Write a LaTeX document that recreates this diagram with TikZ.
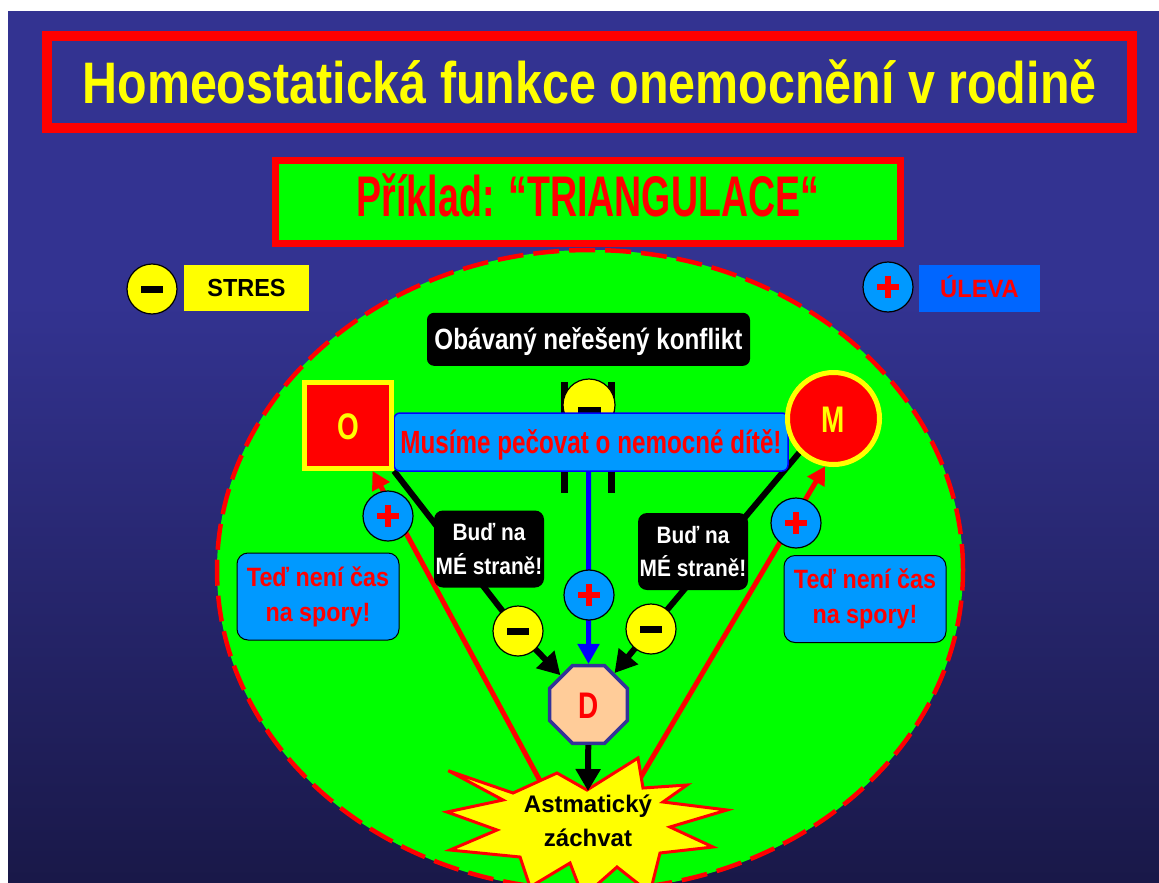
\documentclass[tikz,border=0pt]{standalone}
\usepackage{fontspec}
\setmainfont{Liberation Sans}
\newfontfamily\fT[FakeStretch=0.826]{Liberation Sans}
\newfontfamily\fS[FakeStretch=0.655]{Liberation Sans}
\newfontfamily\fM[FakeStretch=0.755]{Liberation Sans}
\newfontfamily\fB[FakeStretch=0.88]{Liberation Sans}
\newfontfamily\fL[FakeStretch=0.95]{Liberation Sans}
\usetikzlibrary{shapes.geometric,arrows.meta,calc}
\pgfdeclarelayer{back}
\pgfdeclarelayer{bg}
\pgfsetlayers{back,bg,main}
\definecolor{bgtop}{RGB}{51,51,145}
\definecolor{bgbot}{RGB}{25,24,72}
\definecolor{lblue}{RGB}{0,153,255}
\definecolor{ublue}{RGB}{0,102,255}
\definecolor{peach}{RGB}{255,204,153}
\definecolor{navy}{RGB}{51,51,153}
\definecolor{grn}{RGB}{0,255,0}
\definecolor{ylw}{RGB}{255,255,0}
\definecolor{rd}{RGB}{255,0,0}
\definecolor{bl}{RGB}{0,0,255}
\begin{document}
\begin{tikzpicture}[x=1pt,y=-1pt,
  mcirc/.style={circle, draw=black, line width=1.2pt, fill=ylw, minimum size=50pt, inner sep=0pt,
    path picture={\fill[black] (path picture bounding box.center) ++(-11,-3.5) rectangle ++(22,7);}},
  pcirc/.style={circle, draw=black, line width=1.2pt, fill=lblue, minimum size=50pt, inner sep=0pt,
    path picture={\fill[rd] (path picture bounding box.center) ++(-11,-2.6) rectangle ++(22,5.2);
                  \fill[rd] (path picture bounding box.center) ++(-2.6,-11) rectangle ++(5.2,22);}},
  budbox/.style={fill=black, rounded corners=9pt, text=white, align=center, inner sep=0pt,
    minimum width=110pt, minimum height=77pt, font=\fB\bfseries\fontsize{23.7}{33.5}\selectfont},
  tedbox/.style={draw=black, line width=1pt, fill=lblue, rounded corners=11pt, text=rd, align=center, inner sep=0pt,
    minimum width=162pt, minimum height=87pt, font=\fB\bfseries\fontsize{26.5}{35}\selectfont},
  letter/.style={text=ylw, inner sep=0pt, text height=27pt, text depth=0pt, font=\fM\bfseries\fontsize{37}{40}\selectfont},
  blk/.style={line width=6pt, black, -{Triangle[length=22pt,width=24pt]}},
  redarr/.style={line width=5pt, rd, -{Triangle[length=18pt,width=19pt]}},
  bluarr/.style={line width=5pt, bl, -{Triangle[length=20pt,width=21pt]}}
]
\useasboundingbox (0,0) rectangle (1159,883);
\begin{pgfonlayer}{back}
\begin{scope}
\clip (0,0) rectangle (1159,883);
\fill[white] (0,0) rectangle (1159,883);
\fill[bgtop] (8,11) rectangle (1159,300.5);
\shade[top color=bgtop, bottom color=bgbot] (8,300) rectangle (1159,883);
\fill[grn] (590,570) ellipse [x radius=373pt, y radius=320pt];
\draw[rd, line width=4.5pt, dash pattern=on 26pt off 10pt] (590,570) ellipse [x radius=373pt, y radius=320pt];
\end{scope}
\end{pgfonlayer}

% title and subtitle
\node[draw=rd, line width=10pt, minimum width=1085pt, minimum height=92pt, inner sep=0pt,
  text height=42pt, text depth=0pt, text=ylw, font=\fT\bfseries\fontsize{58.6}{60}\selectfont]
  (title) at (589.5,82) {Homeostatická funkce onemocnění v rodině};
\node[draw=rd, line width=7pt, fill=grn, minimum width=625pt, minimum height=83pt, inner sep=0pt,
  text height=41pt, text depth=11pt, text=rd, font=\fS\bfseries\fontsize{57.3}{60}\selectfont]
  (sub) at (588,201.5) {Příklad: “TRIANGULACE“};

% legend
\node[mcirc] (lm) at (152,289) {};
\node[fill=ylw, minimum width=125pt, minimum height=46pt, inner sep=0pt, text height=17.7pt, text depth=0pt,
  font=\fL\bfseries\fontsize{24.7}{26}\selectfont] (stres) at (246.5,288) {STRES};
\node[pcirc] (lp) at (888,287) {};
\node[fill=ublue, minimum width=121pt, minimum height=47pt, inner sep=0pt, text=rd, text height=18pt, text depth=-2pt,
  font=\fL\bfseries\fontsize{25}{26}\selectfont] (uleva) at (979.5,288.5) {ÚLEVA};

% hidden circle and bars behind the blue box
\draw[black, line width=7pt] (564,382) -- (564,493);
\draw[black, line width=7pt] (611,382) -- (611,493);
\filldraw[fill=ylw, draw=black, line width=1.2pt] (589,405) circle (26pt);
\fill[black] (577.5,407) rectangle (600.5,414);

\node[fill=black, rounded corners=7pt, minimum width=323pt, minimum height=53pt, inner sep=0pt, text=white,
  text height=21pt, text depth=0pt, font=\fT\bfseries\fontsize{29.3}{31}\selectfont]
  (konf) at (588.5,339.3) {Obávaný neřešený konflikt};
\node[draw=bl, line width=1.5pt, fill=lblue, rounded corners=6pt, minimum width=394pt, minimum height=58pt,
  inner sep=0pt, text=rd, text height=23pt, text depth=0pt, font=\fM\bfseries\fontsize{32.1}{34}\selectfont]
  (must) at (591,442) {Musíme pečovat o nemocné dítě!};

\node[letter, draw=ylw, line width=5pt, fill=rd, minimum width=87pt, minimum height=86pt] (O) at (348,425.5) {O};
\node[letter, circle, draw=ylw, line width=5pt, fill=rd, minimum size=92pt] (M) at (833.5,418.5) {M};
\node[letter, text=rd, regular polygon, regular polygon sides=8, draw=navy, line width=3.5pt, fill=peach,
  minimum size=84pt] (D) at (588.5,704.5) {D};

\node[pcirc] (pL) at (388,516) {};
\node[pcirc] (pR) at (796,523) {};
\node[pcirc] (pC) at (589,595) {};
\node[mcirc] (mL) at (518,631) {};
\node[mcirc] (mR) at (651,629) {};

\node[budbox] (bL) at (489,549) {Buď na\\MÉ straně!};
\node[budbox] (bR) at (693,551.5) {Buď na\\MÉ straně!};
\node[tedbox] (tL) at (318,596.5) {Teď není čas\\na spory!};
\node[tedbox] (tR) at (865,599) {Teď není čas\\na spory!};

% starburst
\begin{scope}
\clip (0,0) rectangle (1159,883);
\filldraw[fill=ylw, draw=rd, line width=3pt] (448.3,770.7) -- (513,793) -- (557,773) -- (587,790) -- (638,758)
  -- (643,788) -- (687,785) -- (663,802) -- (727,810) -- (670,827) -- (713,847) -- (660,853) -- (650,893)
  -- (617,867) -- (583,897) -- (570,863) -- (530,887) -- (520,857) -- (450,850) -- (497,830) -- (447,812)
  -- (503,800) -- cycle;
\end{scope}
\node[align=center, inner sep=0pt, font=\bfseries\fontsize{24}{33.7}\selectfont] (burst) at (588,821) {Astmatický\\záchvat};
\coordinate (btip) at (588,791);
\draw[blk] (D) -- (btip);

\begin{pgfonlayer}{bg}
\draw[blk] (O.south east) -- (mL.center) -- (D);
\draw[blk] (M.225) -- (mR.center) -- (D);
\draw[bluarr] (D |- must.south) -- (D);
\draw[redarr] ($(burst)+(-43,-31)$) -- (O);
\draw[redarr] ($(burst)+(47,-34)$) -- (M.-100);
\end{pgfonlayer}
\end{tikzpicture}
\end{document}
